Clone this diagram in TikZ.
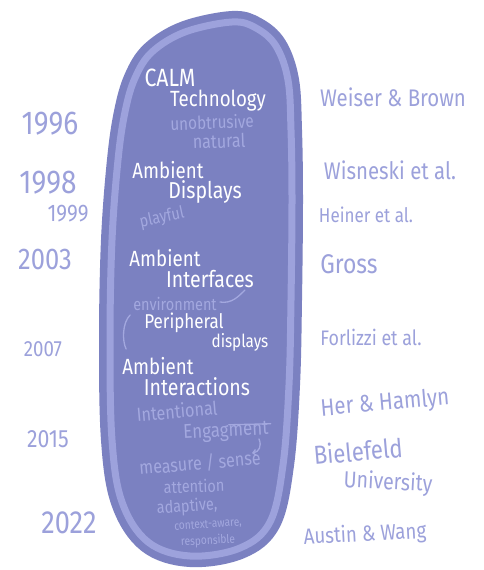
\documentclass[tikz,border=0pt]{standalone}
\usepackage{fontspec}
\usetikzlibrary{arrows.meta}
\newfontfamily\hand[FakeStretch=0.85]{Fira Sans}
\definecolor{blobfill}{HTML}{7B81C1}
\definecolor{ringline}{HTML}{9DA2DC}
\definecolor{ink}{HTML}{9CA1DB}
\definecolor{faint}{HTML}{A3A8DF}
\tikzset{
  hw/.style={inner sep=0pt, font=\hand\fontsize{#1}{#1}\selectfont},
  head/.style={hw=#1, text=white},
  note/.style={hw=#1, text=faint},
  year/.style={hw=#1, text=ink},
  author/.style={hw=#1, text=ink},
  sketch/.style={faint, line width=1.3pt, line cap=round},
}
% centre line of the inner ring; the blob is this path filled and stroked wide
\def\ringpts{(232,22) (256,28) (276,46) (288,80) (291,130) (292,200) (291,300) (289,385) (283,465) (270,522) (240,548) (190,556) (148,542) (122,502) (112,440) (110,340) (112,240) (118,160) (125,112) (135,78) (152,52) (185,32)}
\begin{document}
\begin{tikzpicture}[x=1pt,y=-1pt]
\useasboundingbox[fill=white] (0,0) rectangle (484,570);

% the blob and its inner ring
\fill[blobfill] plot[smooth cycle, tension=0.6] coordinates {\ringpts};
\draw[blobfill, line width=22pt, line join=round] plot[smooth cycle, tension=0.6] coordinates {\ringpts};
\draw[ringline, line width=7pt] plot[smooth cycle, tension=0.6] coordinates {\ringpts};

% headings inside the blob
\node[head=25] (calm) at (170,78) {CALM};
\node[head=22] (tech) at (218,101) {Technology};
\node[note=18, rotate=2] (unob) at (212,122) {unobtrusive};
\node[note=19, rotate=2] (natu) at (219,141) {natural};

\node[head=22] (amb1) at (168,170) {Ambient};
\node[head=23] (disp) at (205,192) {Displays};
\node[note=17, rotate=12] (play) at (162,218) {playful};

\node[head=22] (amb2) at (165,258) {Ambient};
\node[head=23] (intf) at (210,279) {Interfaces};
\node[note=17] (envi) at (175,304) {environment};
\node[head=20] (peri) at (184,323) {Peripheral};
\node[head=18] (pdis) at (240,342) {displays};
\draw[sketch] (envi.east) ++(3,-2) coordinate (e1) .. controls +(12,2) and +(-6,6) .. ++(25,-12) coordinate (e2);
\draw[sketch] (peri.west) ++(-14,-8) coordinate (p1) .. controls +(-8,8) and +(-4,-8) .. ++(-4,34) coordinate (p2);

\node[head=22] (amb3) at (158,366) {Ambient};
\node[head=23] (inta) at (197,387) {Interactions};
\node[note=19, rotate=5] (inte) at (177,411) {Intentional};
\node[note=20, rotate=3] (enga) at (226,432) {Engagment};
\draw[sketch] (enga.east) ++(-40,-5) -- ++(42,-1);
\coordinate (a1) at (259,439);
\draw[sketch, -{Straight Barb[length=3pt]}] (a1) .. controls (262,446) and (259,452) .. (252,453);
\node[note=19, rotate=5] (meas) at (200,463) {measure / sense};
\node[note=17, rotate=2] (atte) at (194,486) {attention};
\node[note=17, rotate=4] (adap) at (187,507) {adaptive,};
\node[note=12, rotate=4] (ctxa) at (208,525) {context-aware,};
\node[note=12, rotate=3] (resp) at (208,541) {responsible};

% years on the left
\node[year=33] (y96) at (50,124) {1996};
\node[year=33] (y98) at (48,183) {1998};
\node[year=24] (y99) at (68,214) {1999};
\node[year=30] (y03) at (45,259) {2003};
\node[year=22] (y07) at (43,349) {2007};
\node[year=25] (y15) at (48,439) {2015};
\node[year=32] (y22) at (69,523) {2022};

% authors on the right
\node[author=24] (wb) at (393,97) {Weiser \& Brown};
\node[author=24] (wi) at (390,170) {Wisneski et al.};
\node[author=20] (he) at (366,215) {Heiner et al.};
\node[author=27] (gr) at (349,264) {Gross};
\node[author=21] (fo) at (371,337) {Forlizzi et al.};
\node[author=24, rotate=5] (hh) at (385,404) {Her \& Hamlyn};
\node[author=26, rotate=5] (bi) at (358,451) {Bielefeld};
\node[author=23, rotate=-3] (un) at (388,483) {University};
\node[author=22, rotate=3] (aw) at (365,535) {Austin \& Wang};
\end{tikzpicture}
\end{document}
